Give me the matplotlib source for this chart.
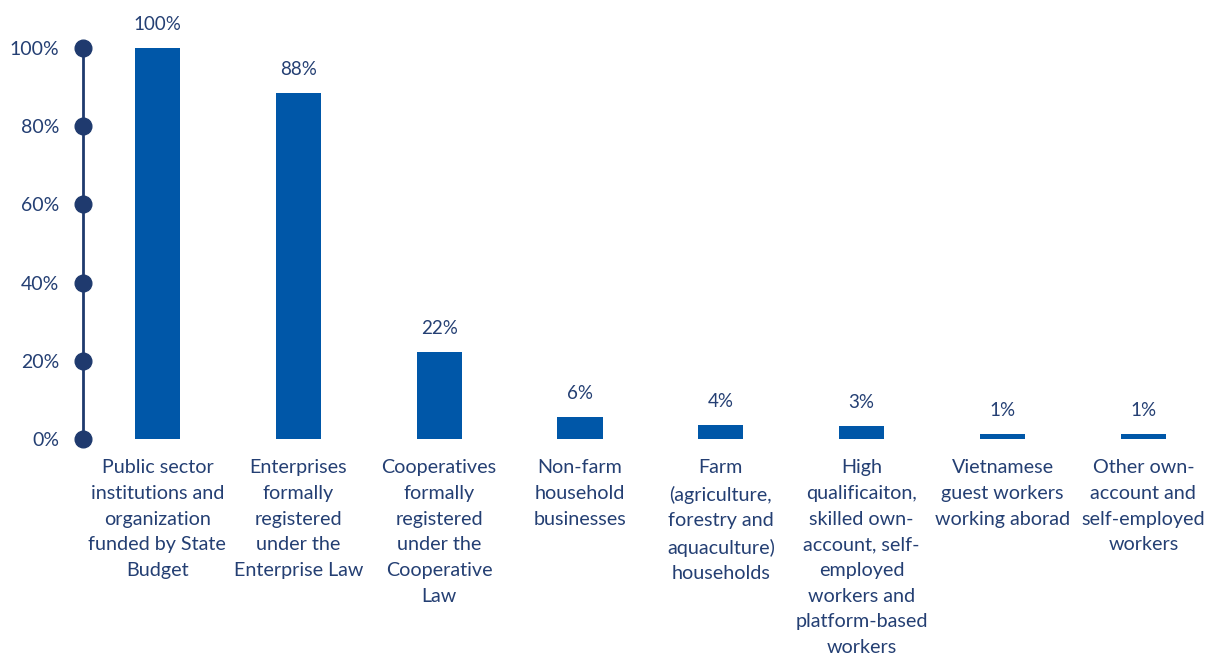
import numpy as np
import matplotlib.pyplot as plt

plt.rcParams['font.family'] = ['Lato', 'DejaVu Sans']

categories = [
    "Public sector\ninstitutions and\norganization\nfunded by State\nBudget",
    "Enterprises\nformally\nregistered\nunder the\nEnterprise Law",
    "Cooperatives\nformally\nregistered\nunder the\nCooperative\nLaw",
    "Non-farm\nhousehold\nbusinesses",
    "Farm\n(agriculture,\nforestry and\naquaculture)\nhouseholds",
    "High\nqualificaiton,\nskilled own-\naccount, self-\nemployed\nworkers and\nplatform-based\nworkers",
    "Vietnamese\nguest workers\nworking aborad",
    "Other own-\naccount and\nself-employed\nworkers",
]
values = [100, 88.4, 22.2, 5.6, 3.6, 3.4, 1.3, 1.3]
yticks = [0, 20, 40, 60, 80, 100]

bar_color = '#0057a8'
navy = '#243f73'
axis_color = '#1f3a6e'

fig = plt.figure(figsize=(12.16, 6.54), dpi=100)
ax = fig.add_axes([0.0683, 0.3287, 0.918, 0.5979])

x = np.arange(len(categories))
bars = ax.bar(x, values, width=0.32, color=bar_color, zorder=2)

for xi, v in zip(x, values):
    ax.annotate(f"{v:.0f}%", (xi, v), xytext=(0, 17), textcoords='offset points',
                ha='center', va='center', fontsize=13.5, color=navy)

x0 = -0.528
ax.set_xlim(x0, 7.397)
ax.set_ylim(0, 100)

for s in ['top', 'right', 'bottom']:
    ax.spines[s].set_visible(False)
ax.spines['left'].set_color(axis_color)
ax.spines['left'].set_linewidth(2)

ax.plot([x0] * len(yticks), yticks, 'o', color=axis_color, markersize=12,
        clip_on=False, zorder=3)

ax.set_yticks(yticks)
ax.set_yticklabels([f"{t}%" for t in yticks], fontsize=14, color=navy)
ax.tick_params(axis='y', length=0, pad=17)

ax.set_xticks(x)
ax.set_xticklabels(categories, fontsize=14.2, color=navy, linespacing=1.62)
ax.tick_params(axis='x', length=0, pad=14.5)

fig.savefig('out.png', dpi=100, facecolor='white')
